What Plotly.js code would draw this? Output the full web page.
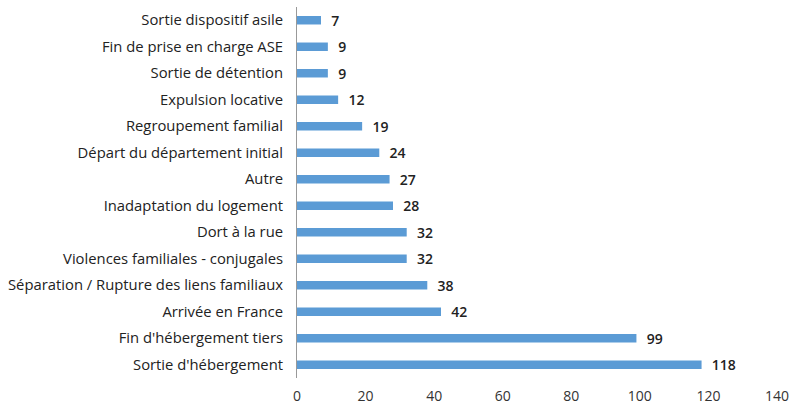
<!DOCTYPE html>
<html><head><meta charset="utf-8">
<script src="https://cdn.plot.ly/plotly-3.0.1.min.js"></script>
<style>body{margin:0;background:#fff}#c{width:795px;height:407px}</style>
</head><body><div id="c"></div>
<script>
const categories = [
  "Sortie d'hébergement",
  "Fin d'hébergement tiers",
  "Arrivée en France",
  "Séparation / Rupture des liens familiaux",
  "Violences familiales - conjugales",
  "Dort à la rue",
  "Inadaptation du logement",
  "Autre",
  "Départ du département initial",
  "Regroupement familial",
  "Expulsion locative",
  "Sortie de détention",
  "Fin de prise en charge ASE",
  "Sortie dispositif asile"
];
const values = [118, 99, 42, 38, 32, 32, 28, 27, 24, 19, 12, 9, 9, 7];
const xTicks = [0, 20, 40, 60, 80, 100, 120, 140];

const font = "Open Sans, Liberation Sans, Arial, sans-serif";
Plotly.newPlot('c', [{
  type: 'bar', orientation: 'h',
  x: values, y: categories,
  marker: {color: '#5b9bd5'},
  text: values.map(String), texttemplate: '  %{text}', textposition: 'outside',
  constraintext: 'none',
  textfont: {family: font, size: 14, color: '#222', weight: 600},
  cliponaxis: false,
  hoverinfo: 'none'
}], {
  width: 795, height: 407,
  margin: {l: 297, r: 18, t: 7, b: 29},
  paper_bgcolor: '#fff', plot_bgcolor: '#fff',
  bargap: 0.68,
  showlegend: false,
  font: {family: font, size: 14, color: '#222'},
  xaxis: {range: [0, 140], tickvals: xTicks, ticktext: xTicks.map(String),
    showgrid: false, zeroline: false, showline: false, ticks: '',
    ticklabelstandoff: 8,
    tickfont: {family: font, size: 14, color: '#333'}},
  yaxis: {type: 'category', categoryorder: 'array', categoryarray: categories,
    showgrid: false, zeroline: false, showline: true, linecolor: '#999', linewidth: 1,
    ticks: '', ticklen: 0, automargin: false, ticklabelstandoff: 10,
    tickfont: {family: font, size: 14.8, color: '#222'}}
}, {staticPlot: true});
</script></body></html>
